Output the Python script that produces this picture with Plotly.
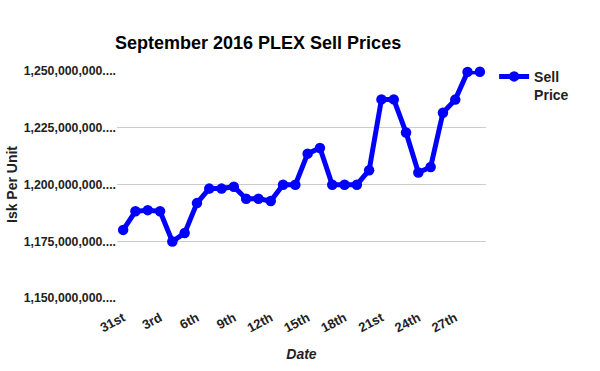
import plotly.graph_objects as go

dates = ["31st", "1st", "2nd", "3rd", "4th", "5th", "6th", "7th", "8th", "9th",
         "10th", "11th", "12th", "13th", "14th", "15th", "16th", "17th", "18th", "19th",
         "20th", "21st", "22nd", "23rd", "24th", "25th", "26th", "27th", "28th", "29th"]
sell_price = [1180.0, 1188.2, 1188.7, 1188.2, 1174.9, 1178.6, 1191.8, 1198.2, 1198.2, 1199.0,
              1193.7, 1193.7, 1192.7, 1199.9, 1199.9, 1213.6, 1216.1, 1199.9, 1199.9, 1199.9,
              1206.3, 1237.5, 1237.5, 1222.9, 1205.3, 1207.7, 1231.6, 1237.4, 1249.6, 1249.7]
sell_price = [v * 1e6 for v in sell_price]
y_ticks = [1150e6, 1175e6, 1200e6, 1225e6, 1250e6]
y_ticktext = ["1,150,000,000....", "1,175,000,000....", "1,200,000,000....",
              "1,225,000,000....", "1,250,000,000...."]
x_ticks = dates[::3]

FONT = "Liberation Sans, Arial, sans-serif"

fig = go.Figure()
fig.add_trace(go.Scatter(
    x=dates, y=sell_price, mode="lines+markers", name="<b>Sell<br>Price</b>",
    line=dict(color="#0000ff", width=5),
    marker=dict(color="#0000ff", size=10.5),
    cliponaxis=False,
))

fig.update_layout(
    width=600, height=371,
    margin=dict(l=115, r=114, t=71, b=72),
    paper_bgcolor="white", plot_bgcolor="white",
    font=dict(family=FONT, color="#222222"),
    title=dict(text="<b>September 2016 PLEX Sell Prices</b>",
               x=115 / 600, xanchor="left", y=1 - 43 / 371, yanchor="middle",
               font=dict(size=18, color="#000000", family=FONT)),
    showlegend=True,
    legend=dict(x=1.022, xanchor="left", y=1.045, yanchor="top", valign="top",
                font=dict(size=14, color="#222222", family=FONT),
                itemwidth=30, bgcolor="rgba(0,0,0,0)"),
    xaxis=dict(
        type="category", categoryorder="array", categoryarray=dates,
        range=[-0.5, len(dates) - 0.5],
        tickmode="array", tickvals=x_ticks, ticktext=["<b>%s</b>" % t for t in x_ticks],
        tickangle=-28, tickfont=dict(size=13, color="#222222"),
        ticklabelstandoff=9,
        showgrid=False, zeroline=False, showline=False, ticks="",
        title=dict(text="<b><i>Date</i></b>", font=dict(size=14, color="#222222"), standoff=14),
    ),
    yaxis=dict(
        range=[1150e6, 1250e6],
        tickmode="array", tickvals=y_ticks, ticktext=["<b>%s</b>" % t for t in y_ticktext],
        tickfont=dict(size=12.3, color="#222222"),
        showgrid=True, gridcolor="#cccccc", gridwidth=1,
        zeroline=False, showline=False, ticks="",
        title=dict(text="<b>Isk Per Unit</b>", font=dict(size=14, color="#222222"), standoff=2),
    ),
)

fig.write_html("out.html")
